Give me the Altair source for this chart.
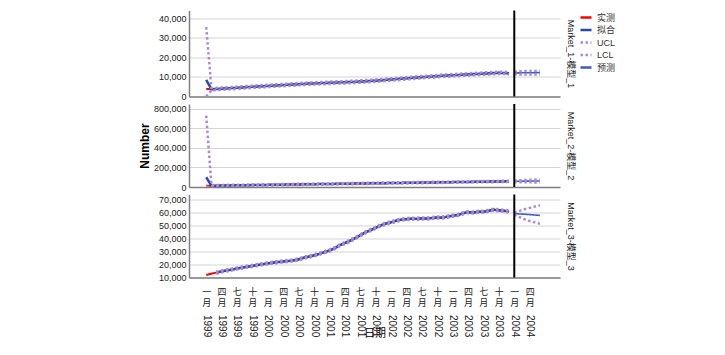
import altair as alt
import pandas as pd

# ---------------- data (values in thousands) ----------------
panel_labels = ["Market_1-模型_1", "Market_2-模型_2", "Market_3-模型_3"]
series_order = ["实测", "拟合", "UCL", "LCL", "预测"]

months = [f"{1999 + k // 12}-{k % 12 + 1:02d}-01T00:00:00" for k in range(60)]
fc_months = [f"2004-{k + 1:02d}-01T00:00:00" for k in range(6)]
forecast_start = ["2004-01-01T00:00:00"]

m1_actual = [3.9, 3.7, 3.85, 4.0, 4.15, 4.3, 4.45, 4.65, 4.8, 4.95, 5.1, 5.25,
             5.4, 5.55, 5.7, 5.85, 6.0, 6.15, 6.3, 6.45, 6.6, 6.7, 6.8, 6.9,
             7.0, 7.1, 7.2, 7.3, 7.4, 7.5, 7.65, 7.8, 7.95, 8.1, 8.3, 8.5,
             8.7, 8.9, 9.1, 9.3, 9.5, 9.7, 9.9, 10.05, 10.2, 10.4, 10.6, 10.75,
             10.9, 11.0, 11.15, 11.3, 11.45, 11.55, 11.7, 11.85, 12.0, 12.1, 12.05, 11.8]
m1_fit = [8.5, 3.75, 3.8, 3.95, 4.15, 4.3, 4.45, 4.6, 4.8, 4.95, 5.1, 5.25,
          5.4, 5.55, 5.7, 5.85, 6.0, 6.15, 6.3, 6.45, 6.6, 6.7, 6.8, 6.9,
          7.0, 7.1, 7.2, 7.3, 7.4, 7.5, 7.65, 7.8, 7.95, 8.1, 8.3, 8.5,
          8.7, 8.9, 9.1, 9.3, 9.5, 9.7, 9.9, 10.05, 10.2, 10.4, 10.6, 10.75,
          10.9, 11.0, 11.15, 11.3, 11.45, 11.55, 11.7, 11.85, 12.0, 12.1, 12.05, 11.85]
m1_ucl = [35.5, 4.35, 4.4, 4.55, 4.75, 4.9, 5.05, 5.2, 5.4, 5.55, 5.7, 5.85,
          6.0, 6.15, 6.3, 6.45, 6.6, 6.75, 6.9, 7.05, 7.2, 7.3, 7.4, 7.5,
          7.6, 7.7, 7.8, 7.9, 8.0, 8.1, 8.25, 8.4, 8.55, 8.7, 8.9, 9.1,
          9.3, 9.5, 9.7, 9.9, 10.1, 10.3, 10.5, 10.65, 10.8, 11.0, 11.2, 11.35,
          11.5, 11.6, 11.75, 11.9, 12.05, 12.15, 12.3, 12.45, 12.6, 12.7, 12.65, 12.45]
m1_lcl = [0.0, 3.15, 3.2, 3.35, 3.55, 3.7, 3.85, 4.0, 4.2, 4.35, 4.5, 4.65,
          4.8, 4.95, 5.1, 5.25, 5.4, 5.55, 5.7, 5.85, 6.0, 6.1, 6.2, 6.3,
          6.4, 6.5, 6.6, 6.7, 6.8, 6.9, 7.05, 7.2, 7.35, 7.5, 7.7, 7.9,
          8.1, 8.3, 8.5, 8.7, 8.9, 9.1, 9.3, 9.45, 9.6, 9.8, 10.0, 10.15,
          10.3, 10.4, 10.55, 10.7, 10.85, 10.95, 11.1, 11.25, 11.4, 11.5, 11.45, 11.25]
m1_fc = [12.1, 12.1, 12.15, 12.15, 12.2, 12.2]
m1_fc_ucl = [12.8, 12.9, 13.0, 13.05, 13.1, 13.15]
m1_fc_lcl = [11.4, 11.3, 11.3, 11.25, 11.3, 11.25]

m2_actual = [12.0, 13.0, 13.8, 14.6, 15.5, 16.3, 17.0, 17.9, 18.7, 19.5, 20.3, 21.0,
             21.8, 22.6, 23.4, 24.1, 24.9, 25.7, 26.5, 27.2, 28.0, 28.8, 29.6, 30.3,
             31.1, 31.9, 32.7, 33.4, 34.2, 35.0, 35.8, 36.5, 37.3, 38.1, 38.9, 39.6,
             40.4, 41.2, 42.0, 42.7, 43.5, 44.3, 45.1, 45.8, 46.6, 47.4, 48.2, 48.9,
             49.7, 50.5, 51.3, 52.0, 52.8, 53.6, 54.4, 55.1, 55.9, 56.7, 57.5, 58.0]
m2_fit = [100.0, 13.2, 13.9, 14.7, 15.5, 16.3, 17.1, 17.9, 18.7, 19.5, 20.3, 21.0,
          21.8, 22.6, 23.4, 24.1, 24.9, 25.7, 26.5, 27.2, 28.0, 28.8, 29.6, 30.3,
          31.1, 31.9, 32.7, 33.4, 34.2, 35.0, 35.8, 36.5, 37.3, 38.1, 38.9, 39.6,
          40.4, 41.2, 42.0, 42.7, 43.5, 44.3, 45.1, 45.8, 46.6, 47.4, 48.2, 48.9,
          49.7, 50.5, 51.3, 52.0, 52.8, 53.6, 54.4, 55.1, 55.9, 56.7, 57.5, 58.0]
m2_ucl = [730.0, 19.2, 19.9, 20.7, 21.5, 22.3, 23.1, 23.9, 24.7, 25.5, 26.3, 27.0,
          27.8, 28.6, 29.4, 30.1, 30.9, 31.7, 32.5, 33.2, 34.0, 34.8, 35.6, 36.3,
          37.1, 37.9, 38.7, 39.4, 40.2, 41.0, 41.8, 42.5, 43.3, 44.1, 44.9, 45.6,
          46.4, 47.2, 48.0, 48.7, 49.5, 50.3, 51.1, 51.8, 52.6, 53.4, 54.2, 54.9,
          55.7, 56.5, 57.3, 58.0, 58.8, 59.6, 60.4, 61.1, 61.9, 62.7, 63.5, 64.0]
m2_lcl = [0.0, 7.2, 7.9, 8.7, 9.5, 10.3, 11.1, 11.9, 12.7, 13.5, 14.3, 15.0,
          15.8, 16.6, 17.4, 18.1, 18.9, 19.7, 20.5, 21.2, 22.0, 22.8, 23.6, 24.3,
          25.1, 25.9, 26.7, 27.4, 28.2, 29.0, 29.8, 30.5, 31.3, 32.1, 32.9, 33.6,
          34.4, 35.2, 36.0, 36.7, 37.5, 38.3, 39.1, 39.8, 40.6, 41.4, 42.2, 42.9,
          43.7, 44.5, 45.3, 46.0, 46.8, 47.6, 48.4, 49.1, 49.9, 50.7, 51.5, 52.0]
m2_fc = [58.6, 59.2, 59.8, 60.4, 61.0, 61.6]
m2_fc_ucl = [66.0, 69.0, 71.0, 73.0, 75.0, 77.0]
m2_fc_lcl = [51.0, 49.0, 48.5, 48.0, 47.0, 46.0]

m3_actual = [12.0, 12.9, 13.8, 14.6, 15.4, 16.1, 16.9, 17.6, 18.3, 18.9, 19.6, 20.2,
             20.9, 21.4, 21.9, 22.3, 22.7, 23.2, 24.0, 25.3, 26.2, 27.0, 28.2, 29.5,
             30.8, 32.6, 34.8, 36.5, 38.2, 40.3, 42.5, 44.8, 46.5, 48.3, 50.2, 51.6,
             52.6, 53.8, 54.6, 55.0, 55.4, 55.1, 55.6, 55.3, 55.9, 56.3, 56.0, 57.0,
             57.6, 58.2, 59.4, 60.5, 60.0, 60.8, 60.6, 61.4, 62.4, 61.7, 61.5, 60.6]
m3_fit = [None, None, 13.7, 14.6, 15.4, 16.1, 16.9, 17.6, 18.3, 18.9, 19.6, 20.2,
          20.9, 21.4, 21.9, 22.3, 22.7, 23.2, 24.0, 25.2, 26.1, 27.0, 28.2, 29.5,
          30.8, 32.6, 34.8, 36.5, 38.2, 40.3, 42.5, 44.8, 46.5, 48.3, 50.2, 51.6,
          52.6, 53.8, 54.6, 55.0, 55.3, 55.2, 55.5, 55.4, 55.9, 56.2, 56.2, 56.9,
          57.6, 58.2, 59.4, 60.3, 60.1, 60.7, 60.7, 61.4, 62.2, 61.8, 61.5, 60.8]
m3_ucl = [None, None, 14.5, 15.4, 16.2, 16.9, 17.7, 18.4, 19.1, 19.7, 20.4, 21.0,
          21.7, 22.2, 22.7, 23.1, 23.5, 24.0, 24.8, 26.0, 26.9, 27.8, 29.0, 30.3,
          31.6, 33.4, 35.6, 37.3, 39.0, 41.1, 43.3, 45.6, 47.3, 49.1, 51.0, 52.4,
          53.4, 54.6, 55.4, 55.8, 56.1, 56.0, 56.3, 56.2, 56.7, 57.0, 57.0, 57.7,
          58.4, 59.0, 60.2, 61.1, 60.9, 61.5, 61.5, 62.2, 63.0, 62.6, 62.3, 61.6]
m3_lcl = [None, None, 12.9, 13.8, 14.6, 15.3, 16.1, 16.8, 17.5, 18.1, 18.8, 19.4,
          20.1, 20.6, 21.1, 21.5, 21.9, 22.4, 23.2, 24.4, 25.3, 26.2, 27.4, 28.7,
          30.0, 31.8, 34.0, 35.7, 37.4, 39.5, 41.7, 44.0, 45.7, 47.5, 49.4, 50.8,
          51.8, 53.0, 53.8, 54.2, 54.5, 54.4, 54.7, 54.6, 55.1, 55.4, 55.4, 56.1,
          56.8, 57.4, 58.6, 59.5, 59.3, 59.9, 59.9, 60.6, 61.4, 61.0, 60.7, 60.0]
m3_fc = [59.3, 59.0, 58.8, 58.5, 58.2, 57.9]
m3_fc_ucl = [60.2, 61.4, 62.6, 63.7, 64.7, 65.6]
m3_fc_lcl = [58.4, 56.6, 55.0, 53.6, 52.5, 51.5]

y_domains = [[0, 44000], [0, 850000], [10000, 74000]]

# ---------------- styling ----------------
series_colors = ["#ff0000", "#2b48a6", "#a98bd4", "#a98bd4", "#3b5cc4"]
series_dash = [[1, 0], [1, 0], [2.5, 2.5], [2.5, 2.5], [1, 0]]
series_width = {"实测": 2, "拟合": 2.5, "UCL": 2.5, "LCL": 2.5, "预测": 1.6}
draw_order = ["实测", "拟合", "预测", "UCL", "LCL"]
panel_heights = [86, 83, 83]
PANEL_W = 371
SANS = "Liberation Sans, Noto Sans CJK SC"
CJK = "Noto Sans CJK SC"


def build_frame(actual, fit, ucl, lcl, fc, fucl, flcl):
    rows = []

    def add(series, seg, dates, vals):
        for d, v in zip(dates, vals):
            if v is not None:
                rows.append({"date": d, "series": series, "seg": seg, "value": v * 1000})

    add("实测", "hist", months, actual)
    add("拟合", "hist", months, fit)
    add("UCL", "hist", months, ucl)
    add("LCL", "hist", months, lcl)
    add("预测", "fc", fc_months, fc)
    add("UCL", "fc", fc_months, fucl)
    add("LCL", "fc", fc_months, flcl)
    return pd.DataFrame(rows)


frames = [
    build_frame(m1_actual, m1_fit, m1_ucl, m1_lcl, m1_fc, m1_fc_ucl, m1_fc_lcl),
    build_frame(m2_actual, m2_fit, m2_ucl, m2_lcl, m2_fc, m2_fc_ucl, m2_fc_lcl),
    build_frame(m3_actual, m3_fit, m3_ucl, m3_lcl, m3_fc, m3_fc_ucl, m3_fc_lcl),
]
rule_df = pd.DataFrame({"date": forecast_start})

x_scale = alt.Scale(domain=[alt.DateTime(year=1998, month=9, date=21),
                            alt.DateTime(year=2004, month=9, date=28)])
tick_dates = [alt.DateTime(year=1999 + q // 4, month=3 * (q % 4) + 1, date=1) for q in range(22)]

plain_x_axis = alt.Axis(labels=False, ticks=False, grid=False, title=None,
                        domainColor="#7f7f7f", domainWidth=1.5)
month_x_axis = alt.Axis(values=tick_dates,
                        labelExpr="[['一','','','四','','','七','','','十','',''][month(datum.value)], '月']",
                        labelFont=CJK, labelFontSize=9, labelLineHeight=10.5, labelPadding=10,
                        labelAngle=0, labelAlign="center", labelBaseline="top", labelColor="#222",
                        labelOverlap=False, labelFlush=False, ticks=False, grid=False,
                        domainColor="#7f7f7f", domainWidth=1.5,
                        title="日期", titleFont=CJK, titleFontSize=11, titleFontWeight="normal",
                        titleColor="#000", titleY=50)
year_x_axis = alt.Axis(orient="bottom", values=tick_dates,
                       labelExpr="timeFormat(datum.value, '%Y')", labelAngle=90,
                       labelFont="Liberation Sans", labelFontSize=10, labelPadding=37,
                       labelColor="#222", labelOverlap=False, labelFlush=False,
                       ticks=False, grid=False, domain=False, title=None)

legend = alt.Legend(title=None, orient="right", offset=4, padding=0, symbolType="stroke",
                    symbolSize=121, symbolStrokeWidth=2.5, labelFont=SANS, labelFontSize=9,
                    labelColor="#333", rowPadding=0.5, labelOffset=4)
color = alt.Color("series:N", scale=alt.Scale(domain=series_order, range=series_colors), legend=legend)
dash = alt.StrokeDash("series:N", scale=alt.Scale(domain=series_order, range=series_dash), legend=legend)


def left_axis(i):
    return alt.Axis(orient="left", tickCount=5, format=",d", labelFont="Liberation Sans",
                    labelFontSize=9, labelColor="#222", labelPadding=3, ticks=False,
                    domainColor="#7f7f7f", domainWidth=1.5, gridColor="#d4d4d4", gridWidth=1,
                    minExtent=36, title="Number", titleFont="Liberation Sans", titleFontSize=12,
                    titleFontWeight="bold", titleColor="#000", titlePadding=2,
                    titleOpacity=1 if i == 1 else 0)


def right_axis(i):
    return alt.Axis(orient="right", labels=False, ticks=False, domain=False, grid=False,
                    title=panel_labels[i], titleAngle=90, titleFont=SANS, titleFontSize=9,
                    titleFontWeight="normal", titleColor="#222", titlePadding=5)


def panel(i):
    df = frames[i]
    bottom = i == 2
    xe = alt.X("date:T", scale=x_scale, axis=month_x_axis if bottom else plain_x_axis)
    ys = alt.Scale(domain=y_domains[i], nice=False, zero=False)
    layers = []
    for s in draw_order:
        layers.append(
            alt.Chart(df).transform_filter(alt.datum.series == s)
            .mark_line(strokeWidth=series_width[s], clip=True)
            .encode(x=xe, y=alt.Y("value:Q", scale=ys, axis=left_axis(i)),
                    color=color, strokeDash=dash, detail="seg:N")
        )
    lines = alt.layer(*layers)
    label_layer = (
        alt.Chart(df).transform_filter(alt.datum.series == "实测")
        .mark_line(opacity=0)
        .encode(x=xe, y=alt.Y("value:Q", scale=ys, axis=right_axis(i)))
    )
    mid = alt.layer(lines, label_layer).resolve_axis(y="independent")
    rule = alt.Chart(rule_df).mark_rule(color="black", strokeWidth=2).encode(
        x=alt.X("date:T", scale=x_scale, axis=year_x_axis if bottom else plain_x_axis)
    )
    if bottom:
        out = alt.layer(mid, rule).resolve_axis(x="independent")
    else:
        out = alt.layer(mid, rule)
    return out.properties(width=PANEL_W, height=panel_heights[i])


chart = (
    alt.vconcat(panel(0), panel(1), panel(2), spacing=7.5, bounds="flush")
    .properties(padding={"left": 137, "top": 8.5, "right": 0, "bottom": 0}, background="white")
    .configure_view(stroke="transparent")
)

chart.save("out.html", embed_options={"renderer": "svg", "actions": False})
